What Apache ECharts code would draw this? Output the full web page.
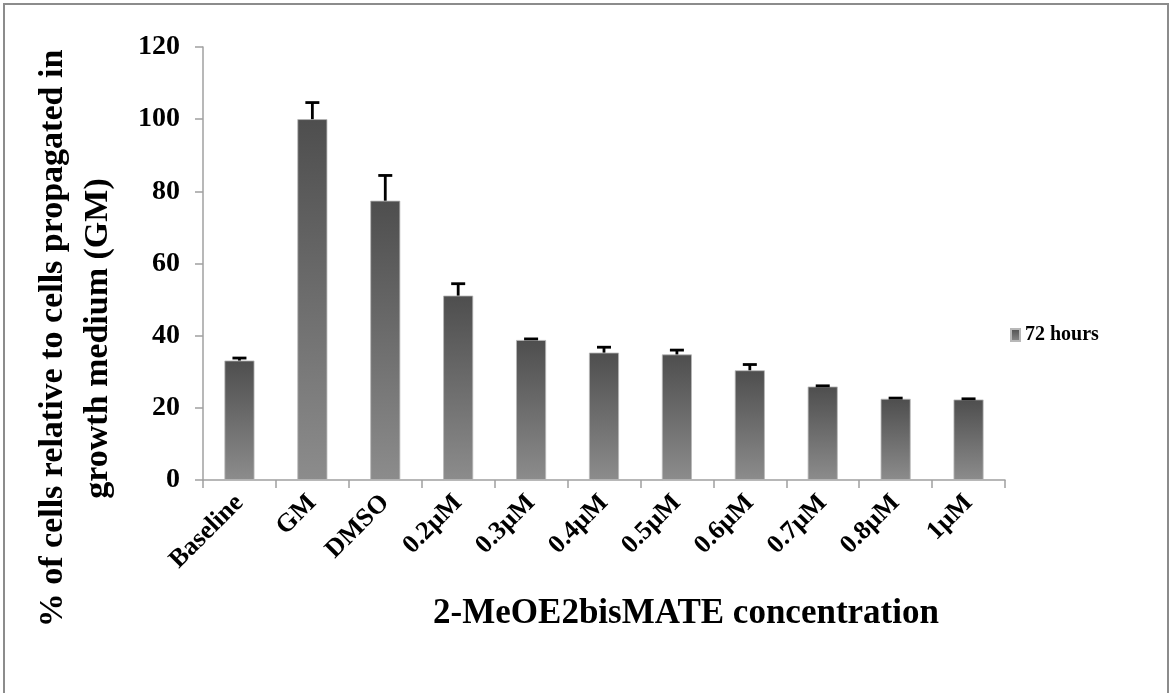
<!DOCTYPE html>
<html>
<head>
<meta charset="utf-8">
<script src="https://cdn.jsdelivr.net/npm/echarts@6/dist/echarts.min.js"></script>
<style>
  html, body { margin: 0; padding: 0; background: #fff; }
  #chart { width: 1173px; height: 693px; }
</style>
</head>
<body>
<div id="chart"></div>
<script>
const categories = ['Baseline', 'GM', 'DMSO', '0.2μM', '0.3μM', '0.4μM', '0.5μM', '0.6μM', '0.7μM', '0.8μM', '1μM']
const values = [33.1, 100, 77.4, 51.1, 38.8, 35.3, 34.8, 30.4, 25.9, 22.5, 22.3]
const errors = [0.7, 4.6, 7.0, 3.3, 0.3, 1.5, 1.2, 1.6, 0.2, 0.2, 0.2]
const yTicks = [0, 20, 40, 60, 80, 100, 120]

const serif = '"Liberation Serif", "Times New Roman", serif'
const chart = echarts.init(document.getElementById('chart'))

const barColor = new echarts.graphic.LinearGradient(0, 0, 0, 1, [
  { offset: 0, color: '#4e4e4e' },
  { offset: 1, color: '#8c8c8c' },
])

chart.setOption({
  animation: false,
  graphic: [
    {
      type: 'rect',
      shape: { x: 4, y: 4, width: 1164, height: 720 },
      style: { fill: 'none', stroke: '#8c8c8c', lineWidth: 2 },
      silent: true,
    },
  ],
  grid: { left: 203, right: 168, top: 47, bottom: 213, containLabel: false, outerBoundsMode: 'none' },
  legend: {
    data: ['72 hours'],
    left: 1005,
    top: 320,
    icon: 'rect',
    itemWidth: 9,
    itemHeight: 12,
    textStyle: { fontFamily: serif, fontWeight: 'bold', fontSize: 20, color: '#000' },
  },
  xAxis: {
    type: 'category',
    data: categories,
    axisLine: { lineStyle: { color: '#a0a0a0', width: 1.5 } },
    axisTick: { show: true, length: 8, lineStyle: { color: '#a0a0a0', width: 1.5 } },
    axisLabel: {
      rotate: 45,
      margin: 19,
      interval: 0,
      fontFamily: serif,
      fontWeight: 'bold',
      fontSize: 26,
      color: '#000',
    },
    name: '2-MeOE2bisMATE concentration',
    nameLocation: 'middle',
    nameGap: 116,
    nameTextStyle: {
      fontFamily: serif,
      fontWeight: 'bold',
      fontSize: 35,
      color: '#000',
      padding: [0, 0, 0, 164],
    },
  },
  yAxis: {
    type: 'value',
    min: 0,
    max: 120,
    interval: 20,
    splitLine: { show: false },
    axisLine: { show: true, lineStyle: { color: '#a0a0a0', width: 1.5 } },
    axisTick: { show: true, length: 8, lineStyle: { color: '#a0a0a0', width: 1.5 } },
    axisLabel: {
      margin: 23,
      fontFamily: serif,
      fontWeight: 'bold',
      fontSize: 28,
      color: '#000',
      formatter: (v) => (yTicks.includes(v) ? String(v) : ''),
    },
    name: '% of cells relative to cells propagated in\ngrowth medium (GM)',
    nameLocation: 'middle',
    nameRotate: 90,
    nameGap: 82,
    nameTextStyle: {
      fontFamily: serif,
      fontWeight: 'bold',
      fontSize: 34,
      lineHeight: 45,
      color: '#000',
      align: 'center',
      padding: [0, 150, 0, 0],
    },
  },
  series: [
    {
      name: '72 hours',
      type: 'bar',
      data: values,
      barWidth: 30,
      itemStyle: { color: barColor, borderColor: '#b8b8b8', borderWidth: 0.8 },
    },
    {
      name: 'error',
      type: 'custom',
      data: values.map((v, i) => [i, v, errors[i]]),
      z: 10,
      renderItem(params, api) {
        const i = api.value(0)
        const v = api.value(1)
        const e = api.value(2)
        const base = api.coord([i, v])
        const top = api.coord([i, v + e])
        const style = { stroke: '#000', lineWidth: 2.8 }
        return {
          type: 'group',
          children: [
            { type: 'line', shape: { x1: base[0], y1: base[1], x2: top[0], y2: top[1] }, style },
            { type: 'line', shape: { x1: top[0] - 7, y1: top[1], x2: top[0] + 7, y2: top[1] }, style },
          ],
        }
      },
    },
  ],
})
</script>
</body>
</html>
